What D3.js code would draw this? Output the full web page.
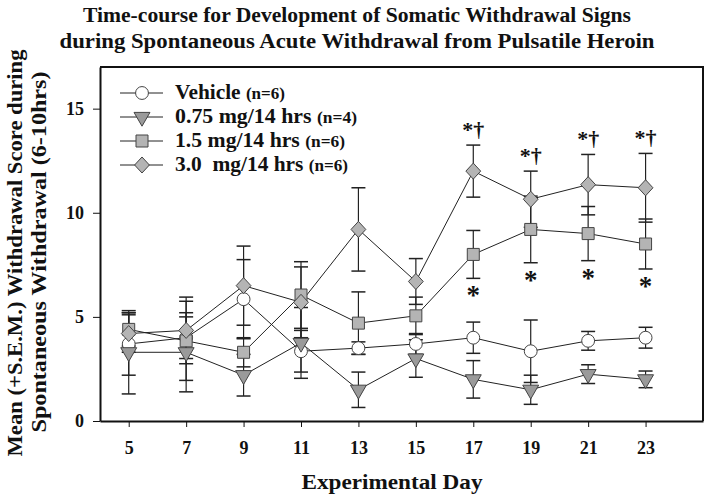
<!DOCTYPE html>
<html><head><meta charset="utf-8">
<script src="https://cdn.jsdelivr.net/npm/d3@7"></script>
<style>
body{margin:0;background:#fff;}
svg text{font-family:"Liberation Serif","DejaVu Serif",serif;font-weight:bold;fill:#111;}
</style></head>
<body><svg id="c" width="714" height="500"></svg>
<script>
const days = [5,7,9,11,13,15,17,19,21,23];
const vehicleMean = [3.7,4.0,5.85,3.35,3.5,3.7,4.0,3.35,3.85,4.0];
const vehicleSem  = [1.5,1.0,1.9,1.0,0.3,0.5,0.75,1.5,0.45,0.5];
const lowMean = [3.3,3.3,2.2,3.75,1.5,3.0,2.0,1.5,2.25,2.0];
const lowSem  = [2.0,1.9,1.0,1.7,0.85,0.9,0.9,0.7,0.45,0.4];
const midMean = [4.4,3.85,3.3,6.05,4.7,5.05,8.0,9.2,9.0,8.5];
const midSem  = [0.8,1.9,0.7,1.6,1.5,0.9,1.15,1.6,1.3,1.2];
const highMean = [4.2,4.35,6.5,5.7,9.2,6.7,12.0,10.65,11.35,11.2];
const highSem  = [0.9,1.6,1.9,1.7,2.0,1.1,1.25,1.35,1.45,1.65];
const seriesNames = ["Vehicle","0.75 mg/14 hrs","1.5 mg/14 hrs","3.0  mg/14 hrs"];
const seriesN = ["(n=6)","(n=4)","(n=6)","(n=6)"];
const sigDays = [17,19,21,23];
const xTicks = [5,7,9,11,13,15,17,19,21,23];
const yTicks = [0,5,10,15];

const svg = d3.select("#c");
const L=100,R=703,T=67,B=421;
const x = d3.scaleLinear().domain([4,25]).range([L,R]);
const y = d3.scaleLinear().domain([0,17]).range([B,T]);

// title
const title = ["Time-course for Development of Somatic Withdrawal Signs","during Spontaneous Acute Withdrawal from Pulsatile Heroin"];
const tl=[548,595];
title.forEach((t,i)=>svg.append("text").attr("x",357).attr("y",22+i*26).attr("text-anchor","middle")
  .attr("font-size",20).attr("textLength",tl[i]).attr("lengthAdjust","spacingAndGlyphs").text(t));

// frame
svg.append("path").attr("d",`M${L},${T}H${R}V${B}`).attr("fill","none").attr("stroke","#111").attr("stroke-width",2);

// axes
const xa = svg.append("g").attr("transform",`translate(0,${B})`)
  .call(d3.axisBottom(x).tickValues(xTicks).tickSize(6).tickSizeOuter(0).tickPadding(14));
xa.select(".domain").attr("stroke-width",2).attr("stroke","#111");
xa.selectAll(".tick line").attr("stroke","#111");
xa.selectAll("text").attr("font-size",18).attr("font-family",null);
const ya = svg.append("g").attr("transform",`translate(${L},0)`)
  .call(d3.axisLeft(y).tickValues(yTicks).tickSize(7).tickSizeOuter(0).tickPadding(9));
ya.select(".domain").attr("stroke-width",2).attr("stroke","#111");
ya.selectAll(".tick line").attr("stroke","#111");
ya.selectAll("text").attr("font-size",18).attr("font-family",null);

svg.append("text").attr("x",392).attr("y",489).attr("text-anchor","middle").attr("font-size",21)
  .attr("textLength",181).attr("lengthAdjust","spacingAndGlyphs").text("Experimental Day");
svg.append("text").attr("transform","translate(22,253) rotate(-90)").attr("text-anchor","middle").attr("font-size",21)
  .attr("textLength",407).attr("lengthAdjust","spacingAndGlyphs").text("Mean (+S.E.M.) Withdrawal Score during");
svg.append("text").attr("transform","translate(46,252) rotate(-90)").attr("text-anchor","middle").attr("font-size",21)
  .attr("textLength",361).attr("lengthAdjust","spacingAndGlyphs").text("Spontaneous Withdrawal (6-10hrs)");

// symbols
const sym = [
  {type:d3.symbolCircle,size:130,fill:"#fff"},
  {type:d3.symbolTriangle,size:110,fill:"#9a9a9a",rot:180},
  {type:d3.symbolSquare,size:144,fill:"#b4b4b4"},
  {type:d3.symbolDiamond,size:74,fill:"#b4b4b4",sx:1.6}
];
const series = [[vehicleMean,vehicleSem],[lowMean,lowSem],[midMean,midSem],[highMean,highSem]];
function drawSym(g,s,cx,cy){
  g.append("path").attr("d",d3.symbol().type(s.type).size(s.size)())
   .attr("transform",`translate(${cx},${cy})`+(s.rot?` rotate(${s.rot})`:"")+(s.sx?` scale(${s.sx},1)`:""))
   .attr("fill",s.fill).attr("stroke","#444").attr("stroke-width",1).attr("vector-effect","non-scaling-stroke");
}
const line = d3.line().x(d=>x(d[0])).y(d=>y(d[1]));
const gE = svg.append("g"), gL = svg.append("g"), gS = svg.append("g");
series.forEach(([m,s],k)=>{
  const pts = days.map((d,i)=>[d,m[i],s[i]]);
  pts.forEach(p=>{
    const cx=x(p[0]), y1=y(p[1]-p[2]), y2=y(p[1]+p[2]);
    gE.append("line").attr("x1",cx).attr("x2",cx).attr("y1",y1).attr("y2",y2).attr("stroke","#222").attr("stroke-width",1.2);
    [y1,y2].forEach(yy=>gE.append("line").attr("x1",cx-7).attr("x2",cx+7).attr("y1",yy).attr("y2",yy).attr("stroke","#222").attr("stroke-width",1.5));
  });
  gL.append("path").attr("d",line(pts)).attr("fill","none").attr("stroke","#222").attr("stroke-width",1);
  const g=gS.append("g");
  pts.forEach(p=>drawSym(g,sym[k],x(p[0]),y(p[1])));
});

// significance marks
sigDays.forEach(d=>{
  const i=days.indexOf(d);
  svg.append("text").attr("x",x(d)).attr("y",y(highMean[i]+highSem[i])-8).attr("text-anchor","middle")
    .attr("font-size",22).attr("font-family","DejaVu Sans").attr("font-weight","normal").text("*†");
  svg.append("text").attr("x",x(d)).attr("y",y(midMean[i]-midSem[i])+26).attr("text-anchor","middle")
    .attr("font-size",27).attr("font-family","DejaVu Sans").attr("font-weight","bold").text("*");
});

// legend
const lg = svg.append("g");
const legW = [110,182,170,173];
seriesNames.forEach((n,k)=>{
  const yy = 93 + k*24;
  lg.append("line").attr("x1",120).attr("x2",163).attr("y1",yy).attr("y2",yy).attr("stroke","#222");
  drawSym(lg,sym[k],142,yy);
  const t=lg.append("text").attr("x",175).attr("y",yy+6).attr("font-size",20).style("white-space","pre")
    .attr("textLength",legW[k]).attr("lengthAdjust","spacingAndGlyphs");
  t.append("tspan").text(n+" ");
  t.append("tspan").attr("font-size",16).text(seriesN[k]);
});
</script></body></html>
